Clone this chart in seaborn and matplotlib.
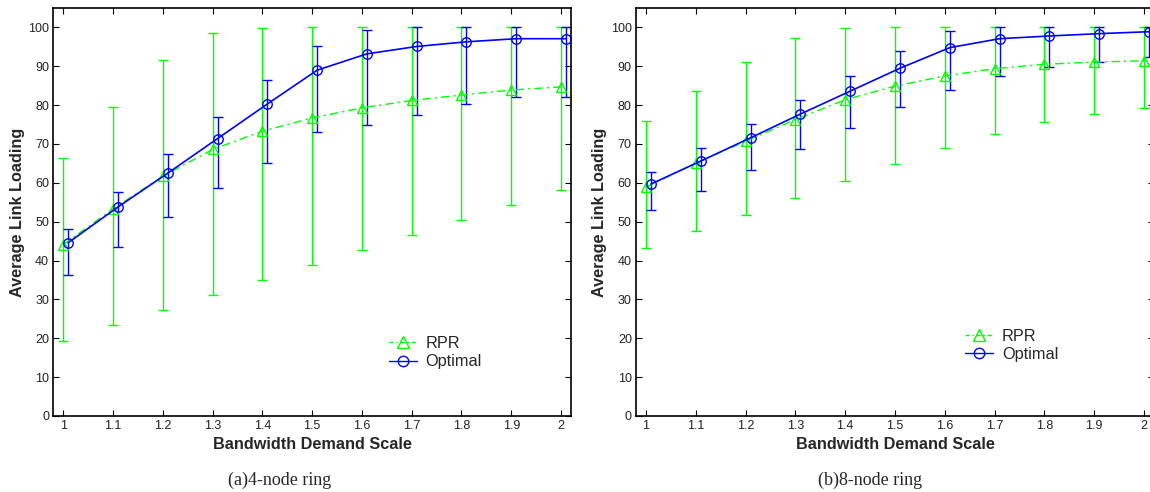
import numpy as np
import pandas as pd
import matplotlib
matplotlib.use("Agg")
import matplotlib.pyplot as plt
import seaborn as sns
from matplotlib.lines import Line2D

# Bandwidth demand scale factors
scale = [1.0, 1.1, 1.2, 1.3, 1.4, 1.5, 1.6, 1.7, 1.8, 1.9, 2.0]

# 4-node ring: mean link loading with min/max bounds
rpr4_mean = [44.1, 53.3, 61.7, 68.6, 73.3, 76.7, 79.3, 81.2, 82.6, 83.9, 84.7]
rpr4_low = [19.4, 23.3, 27.2, 31.1, 35.0, 38.9, 42.7, 46.6, 50.4, 54.4, 58.2]
rpr4_high = [66.3, 79.6, 91.5, 98.5, 99.8, 100.0, 100.0, 100.0, 100.0, 100.0, 100.0]
opt4_mean = [44.6, 53.8, 62.5, 71.4, 80.3, 89.0, 93.2, 95.1, 96.3, 97.1, 97.1]
opt4_low = [36.2, 43.5, 51.1, 58.7, 65.0, 73.0, 75.0, 77.5, 80.2, 82.2, 82.2]
opt4_high = [48.0, 57.6, 67.3, 76.9, 86.4, 95.2, 99.3, 100.0, 100.0, 100.0, 100.0]

# 8-node ring
rpr8_mean = [58.9, 65.1, 70.7, 76.3, 81.4, 84.9, 87.5, 89.4, 90.5, 91.1, 91.4]
rpr8_low = [43.3, 47.5, 51.8, 56.0, 60.4, 64.8, 69.0, 72.7, 75.7, 77.8, 79.3]
rpr8_high = [75.9, 83.7, 91.1, 97.2, 99.9, 100.0, 100.0, 100.0, 100.0, 100.0, 100.0]
opt8_mean = [59.7, 65.6, 71.6, 77.7, 83.6, 89.5, 94.8, 97.1, 97.8, 98.4, 98.9]
opt8_low = [52.9, 58.0, 63.4, 68.7, 74.0, 79.6, 83.9, 87.6, 89.8, 91.1, 92.3]
opt8_high = [62.7, 68.9, 75.1, 81.4, 87.6, 93.9, 99.0, 100.0, 100.0, 100.0, 100.0]

panels = [
    ("(a)4-node ring", rpr4_mean, rpr4_low, rpr4_high, opt4_mean, opt4_low, opt4_high),
    ("(b)8-node ring", rpr8_mean, rpr8_low, rpr8_high, opt8_mean, opt8_low, opt8_high),
]

sns.set_style("ticks")
plt.rcParams["font.family"] = ["Liberation Sans", "DejaVu Sans"]

W, H = 1150, 492
fig = plt.figure(figsize=(W / 100, H / 100), dpi=100)

GREEN = (0.0, 1.0, 0.0)
BLUE = (0.0, 0.0, 1.0)
OFFSET = 0.01  # shift of the optimal series so error bars do not overlap

axes_px = [(53.3, 8, 517.7, 408), (636, 8, 518, 408)]
legend_anchor = [(0.648, 0.155), (0.636, 0.173)]
caption_x = [280, 870]

for (caption, r_mean, r_low, r_high, o_mean, o_low, o_high), (lx, ty, w, h), anc, cx in zip(
        panels, axes_px, legend_anchor, caption_x):
    ax = fig.add_axes([lx / W, (H - ty - h) / H, w / W, h / H])

    x = np.array(scale)
    df = pd.DataFrame({
        "scale": np.concatenate([x, x + OFFSET]),
        "load": np.concatenate([r_mean, o_mean]),
        "series": ["RPR"] * len(x) + ["Optimal"] * len(x),
    })

    # Error bars spanning the min/max loading
    r_mean_a, o_mean_a = np.array(r_mean), np.array(o_mean)
    ax.errorbar(x, r_mean_a,
                yerr=[r_mean_a - np.array(r_low), np.array(r_high) - r_mean_a],
                fmt="none", ecolor=GREEN, elinewidth=1.0, capsize=3.3, capthick=1.0, zorder=2)
    ax.errorbar(x + OFFSET, o_mean_a,
                yerr=[o_mean_a - np.array(o_low), np.array(o_high) - o_mean_a],
                fmt="none", ecolor=BLUE, elinewidth=1.0, capsize=3.3, capthick=1.0, zorder=2)

    sns.lineplot(data=df[df.series == "RPR"], x="scale", y="load", ax=ax,
                 color=GREEN, linestyle=(0, (6, 3, 1.5, 3)), linewidth=1.0,
                 marker="^", markersize=7.5, markerfacecolor="none",
                 markeredgecolor=GREEN, markeredgewidth=1.0, zorder=3)
    sns.lineplot(data=df[df.series == "Optimal"], x="scale", y="load", ax=ax,
                 color=BLUE, linestyle="-", linewidth=1.2,
                 marker="o", markersize=6.8, markerfacecolor="none",
                 markeredgecolor=BLUE, markeredgewidth=1.0, zorder=4)

    ax.set_xlim(0.98, 2.02)
    ax.set_ylim(0, 105)
    ax.set_xticks(scale)
    ax.set_xticklabels([f"{v:g}" for v in scale])
    ax.set_yticks(range(0, 101, 10))
    ax.tick_params(direction="in", length=4, width=0.8, labelsize=9, pad=3,
                   top=True, right=True, colors="black", labelcolor="#222222")
    for sp in ax.spines.values():
        sp.set_visible(True)
        sp.set_linewidth(1.2)
        sp.set_color("black")

    ax.set_xlabel("Bandwidth Demand Scale", fontsize=11.7, fontweight="bold", labelpad=3.2)
    ax.set_ylabel("Average Link Loading", fontsize=11.7, fontweight="bold")
    ax.yaxis.set_label_coords(-0.0556, 0.5)

    handles = [
        Line2D([], [], color=GREEN, linestyle=(0, (3, 2, 1, 2)), linewidth=1.0,
               marker="^", markersize=9, markerfacecolor="none", markeredgecolor=GREEN),
        Line2D([], [], color=BLUE, linestyle="-", linewidth=1.0,
               marker="o", markersize=7.5, markerfacecolor="none", markeredgecolor=BLUE),
    ]
    if ax.get_legend() is not None:
        ax.get_legend().remove()
    ax.legend(handles, ["RPR", "Optimal"], loc="center left", bbox_to_anchor=anc,
              frameon=False, fontsize=11.7, borderpad=0, borderaxespad=0,
              handlelength=1.72, handletextpad=0.53, labelspacing=0.21)

    fig.text(cx / W, 1 - 480 / H, caption, ha="center", va="center",
             fontsize=13, family=["Liberation Serif", "DejaVu Serif"])

fig.savefig("out.png", dpi=100)
